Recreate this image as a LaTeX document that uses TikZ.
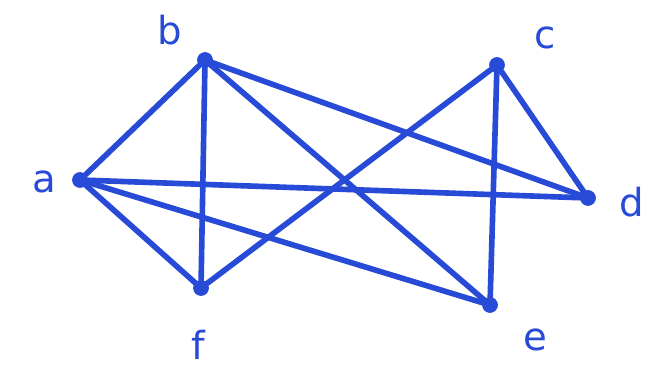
\documentclass[tikz,border=0pt]{standalone}
\usepackage{fontspec}
\setmainfont{DejaVu Sans}
\usepackage{xcolor}
\usepackage{tikz}
\usetikzlibrary{positioning}

\definecolor{penblue}{RGB}{40,75,215}

\begin{document}
\begin{tikzpicture}[x=0.02cm, y=-0.02cm,
		vertex/.style={circle, fill=penblue, draw=penblue, inner sep=0pt, minimum size=0.3cm},
		edge/.style={penblue, line width=3.2pt, line cap=round},
		vlabel/.style={text=penblue, font=\fontsize{22}{24}\selectfont}]
		\useasboundingbox (0,0) rectangle (648,367);

		% Draw the vertices
		\node[vertex] (a) at (80,180) {};
		\node[vertex] (b) at (205,60) {};
		\node[vertex] (c) at (497,65) {};
		\node[vertex] (d) at (588,198) {};
		\node[vertex] (e) at (490,305) {};
		\node[vertex] (f) at (201,288) {};

		% Draw the edges
		\draw[edge] (a) -- (b);
		\draw[edge] (a) -- (f);
		\draw[edge] (a) -- (d);
		\draw[edge] (a) -- (e);
		\draw[edge] (b) -- (f);
		\draw[edge] (b) -- (d);
		\draw[edge] (b) -- (e);
		\draw[edge] (c) -- (f);
		\draw[edge] (c) -- (d);
		\draw[edge] (c) -- (e);

		% Label vertices
		\node[vlabel] (la) at (44,182) {a};
		\node[vlabel] (lb) at (170,30) {b};
		\node[vlabel] (lc) at (545,38) {c};
		\node[vlabel] (ld) at (632,202) {d};
		\node[vlabel] (le) at (535,340) {e};
		\node[vlabel] (lf) at (198,345) {f};
	\end{tikzpicture}
\end{document}
